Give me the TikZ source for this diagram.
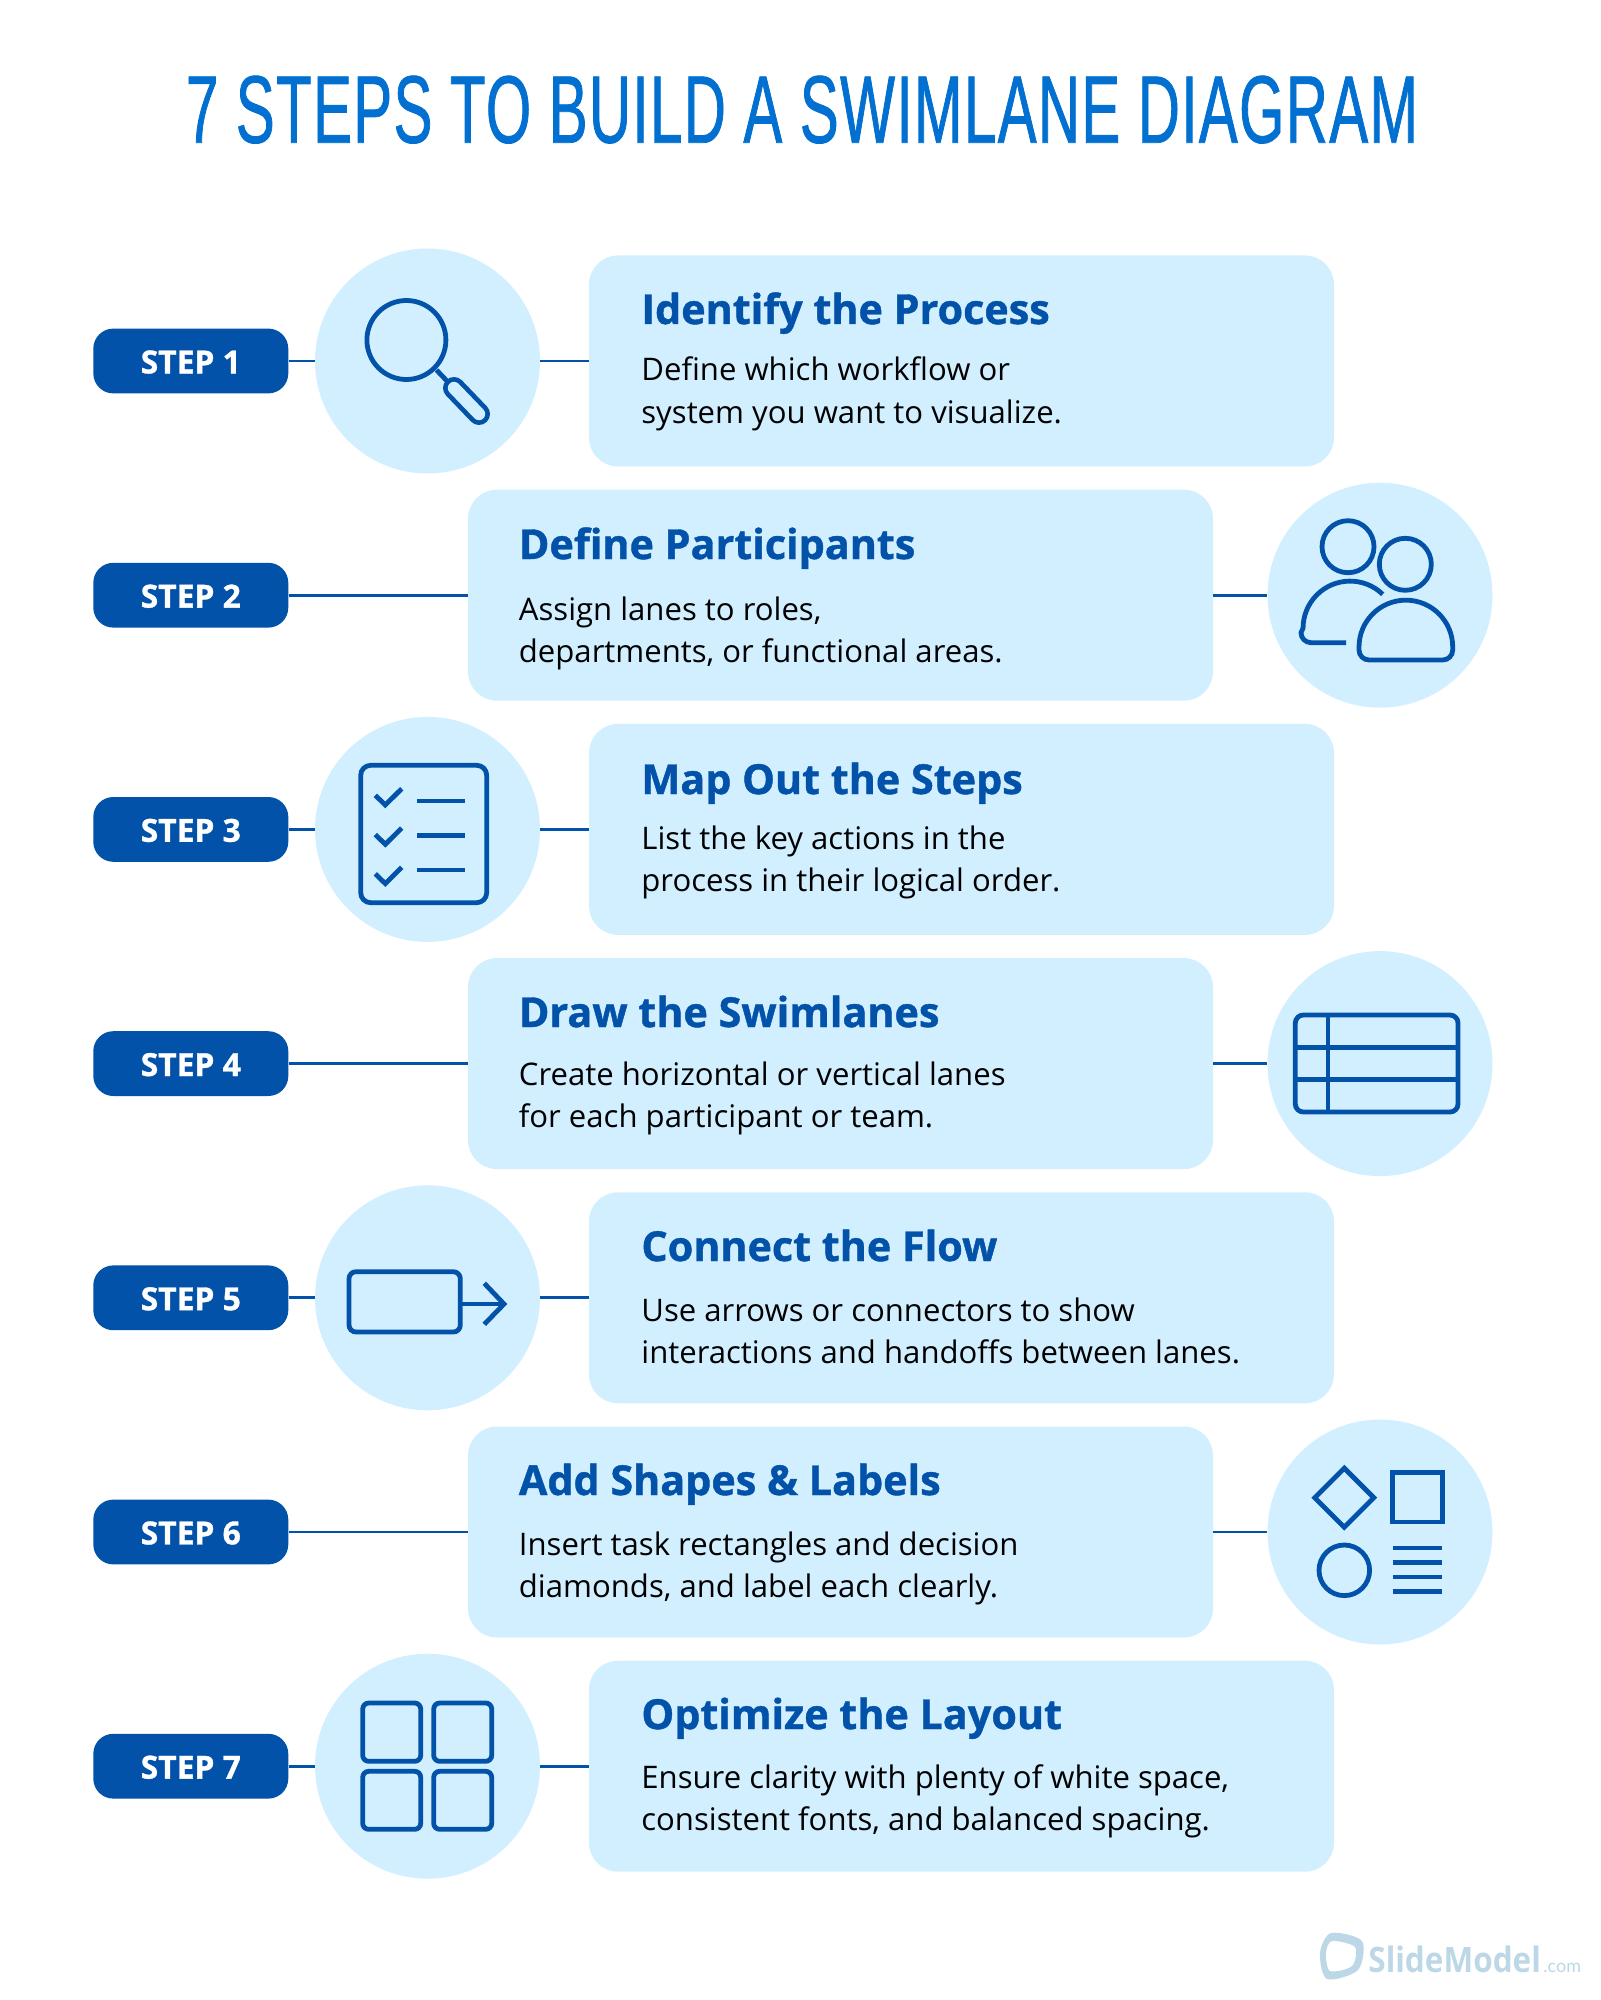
\documentclass[tikz,border=0pt]{standalone}
\usepackage{fontspec}
\setmainfont{Open Sans}
\newfontfamily\titlefont[FakeStretch=0.606,FakeBold=0.8,LetterSpace=1.5]{Liberation Sans}
\newfontfamily\logofont[FakeStretch=0.9]{Open Sans}
\newfontfamily\comfont{Lato}
\newfontfamily\heavyfont[BoldFeatures={FakeBold=1}]{Open Sans}
\definecolor{stepblue}{HTML}{0252A9}
\definecolor{titleblue}{HTML}{0270D1}
\definecolor{paleblue}{HTML}{D2EFFF}
\definecolor{logoblue}{HTML}{BCD8E6}
\tikzset{
  stepbox/.style={fill=stepblue,rounded corners=10pt,minimum width=97.5pt,minimum height=32.4pt,inner sep=0pt,text height=12.4pt,text depth=0pt,text=white,font=\fontsize{15.9}{18}\selectfont\heavyfont\bfseries},
  iconback/.style={circle,fill=paleblue,minimum size=112.5pt,inner sep=0pt},
  cardbox/.style={fill=paleblue,rounded corners=14.5pt,minimum height=105.5pt,inner sep=0pt},
  cardhead/.style={anchor=base west,inner sep=0pt,text=stepblue,font=\fontsize{20.65}{24}\selectfont\heavyfont\bfseries},
  cardtext/.style={anchor=base west,inner sep=0pt,align=left,text=black,font=\fontsize{15.55}{21}\selectfont},
  link/.style={draw=stepblue,line width=1.4pt},
  iconline/.style={draw=stepblue,line width=2.4pt}
}
\begin{document}
\begin{tikzpicture}[x=0.5pt,y=-0.5pt]
  \useasboundingbox (0,0) rectangle (1600,2000);
  \node (maintitle) [anchor=base,inner sep=0pt,text=titleblue,font=\fontsize{48}{50}\selectfont\titlefont] at (802,142.7) {7 STEPS TO BUILD A SWIMLANE DIAGRAM};

  \node (step1) [stepbox] at (190.8,361) {STEP 1};
  \node (step2) [stepbox] at (190.8,595.2) {STEP 2};
  \node (step3) [stepbox] at (190.8,829.4) {STEP 3};
  \node (step4) [stepbox] at (190.8,1063.6) {STEP 4};
  \node (step5) [stepbox] at (190.8,1297.8) {STEP 5};
  \node (step6) [stepbox] at (190.8,1532) {STEP 6};
  \node (step7) [stepbox] at (190.8,1766.2) {STEP 7};

  \node (back1) [iconback] at (427.5,361) {};
  \node (back2) [iconback] at (1380,595.2) {};
  \node (back3) [iconback] at (427.5,829.4) {};
  \node (back4) [iconback] at (1380,1063.6) {};
  \node (back5) [iconback] at (427.5,1297.8) {};
  \node (back6) [iconback] at (1380,1532) {};
  \node (back7) [iconback] at (427.5,1766.2) {};

  \node (card1) [cardbox,minimum width=372.5pt] at (961.5,361) {};
  \node (card2) [cardbox,minimum width=372.5pt] at (840.5,595.2) {};
  \node (card3) [cardbox,minimum width=372.5pt] at (961.5,829.4) {};
  \node (card4) [cardbox,minimum width=372.5pt] at (840.5,1063.6) {};
  \node (card5) [cardbox,minimum width=372.5pt] at (961.5,1297.8) {};
  \node (card6) [cardbox,minimum width=372.5pt] at (840.5,1532) {};
  \node (card7) [cardbox,minimum width=372.5pt] at (961.5,1766.2) {};

  \draw [link] (step1) -- (back1);
  \draw [link] (back1) -- (card1);
  \draw [link] (step2) -- (card2);
  \draw [link] (card2) -- (back2);
  \draw [link] (step3) -- (back3);
  \draw [link] (back3) -- (card3);
  \draw [link] (step4) -- (card4);
  \draw [link] (card4) -- (back4);
  \draw [link] (step5) -- (back5);
  \draw [link] (back5) -- (card5);
  \draw [link] (step6) -- (card6);
  \draw [link] (card6) -- (back6);
  \draw [link] (step7) -- (back7);
  \draw [link] (back7) -- (card7);

  \node (head1) [cardhead] at (641,324) {Identify the Process};
  \node (head2) [cardhead] at (518.5,559) {Define Participants};
  \node (head3) [cardhead] at (641,794) {Map Out the Steps};
  \node (head4) [cardhead] at (518.5,1027) {Draw the Swimlanes};
  \node (head5) [cardhead] at (641,1261) {Connect the Flow};
  \node (head6) [cardhead] at (518.5,1495) {Add Shapes \& Labels};
  \node (head7) [cardhead] at (641,1729) {Optimize the Layout};

  \node (text1) [cardtext] at (641,423) {Define which workflow or\\system you want to visualize.};
  \node (text2) [cardtext] at (518.5,662.6) {Assign lanes to roles,\\departments, or functional areas.};
  \node (text3) [cardtext] at (641,891) {List the key actions in the\\process in their logical order.};
  \node (text4) [cardtext] at (518.5,1127) {Create horizontal or vertical lanes\\for each participant or team.};
  \node (text5) [cardtext] at (641,1363) {Use arrows or connectors to show\\interactions and handoffs between lanes.};
  \node (text6) [cardtext] at (518.5,1597) {Insert task rectangles and decision\\diamonds, and label each clearly.};
  \node (text7) [cardtext] at (641,1830) {Ensure clarity with plenty of white space,\\consistent fonts, and balanced spacing.};

  \draw [iconline] (406.4,340) circle (39.5);
  \draw [iconline] (436.5,370) -- (447,381);
  \draw [draw=stepblue,line width=2.4pt,double=paleblue,double distance=6.2pt,line cap=round] (454,388) -- (479,414);

  \draw [iconline] (1348,546.7) circle (26);
  \draw [iconline] (1405.3,564.3) circle (26);
  \draw [iconline] (1382.7,594.3) arc [start angle=314,end angle=180,radius=47] -- (1301,632.7) arc [start angle=180,end angle=90,radius=10] -- (1346,642.7);
  \draw [iconline] (1359,647) arc [start angle=180,end angle=360,radius=46.85] -- (1452.7,650) arc [start angle=0,end angle=90,radius=10] -- (1369,660) arc [start angle=90,end angle=180,radius=10] -- cycle;

  \draw [iconline,rounded corners=5pt] (360.7,765.3) rectangle (486.7,902.7);
  \draw [iconline] (375.3,795.3) -- (385.3,805) -- (401.7,788.7);
  \draw [iconline] (375.3,834.6) -- (385.3,844.3) -- (401.7,828);
  \draw [iconline] (375.3,873.9) -- (385.3,883.6) -- (401.7,867.3);
  \draw [iconline] (417,801) -- (465,801);
  \draw [iconline] (417,835.7) -- (465,835.7);
  \draw [iconline] (417,870) -- (465,870);

  \draw [iconline,rounded corners=4pt] (1295.3,1015) rectangle (1458,1112);
  \draw [iconline] (1328,1015) -- (1328,1112);
  \draw [iconline] (1295.3,1047.7) -- (1458,1047.7);
  \draw [iconline] (1295.3,1079.3) -- (1458,1079.3);

  \draw [iconline,rounded corners=3.5pt] (349,1271.7) rectangle (460.3,1332);
  \draw [iconline] (460.3,1304) -- (504,1304);
  \draw [iconline] (484.3,1283.3) -- (504,1304) -- (484.3,1324.3);

  \draw [iconline] (1344.3,1468.2) -- (1373.8,1497.7) -- (1344.3,1527.2) -- (1314.8,1497.7) -- cycle;
  \draw [iconline] (1392.7,1472.7) rectangle (1442.3,1522);
  \draw [iconline] (1344.3,1570.3) circle (25.3);
  \draw [iconline] (1392.7,1548) -- (1442,1548);
  \draw [iconline] (1392.7,1562.7) -- (1442,1562.7);
  \draw [iconline] (1392.7,1577) -- (1442,1577);
  \draw [iconline] (1392.7,1591.3) -- (1442,1591.3);

  \draw [iconline,rounded corners=3pt] (362.7,1703) rectangle (420.7,1761.3);
  \draw [iconline,rounded corners=3pt] (433.7,1703) rectangle (491.7,1761.3);
  \draw [iconline,rounded corners=3pt] (362.7,1771.3) rectangle (420.7,1829.3);
  \draw [iconline,rounded corners=3pt] (433.7,1771.3) rectangle (491.7,1829.3);

  \fill [logoblue,even odd rule] plot [smooth cycle] coordinates {(1320,1953) (1331,1933) (1362,1941) (1358,1970) (1327,1979)} plot [smooth cycle] coordinates {(1326,1953) (1332,1941) (1355,1947) (1352,1966) (1330,1971)};
  \node (logoname) [anchor=base west,inner sep=0pt,text=logoblue,font=\fontsize{17.5}{20}\selectfont\logofont\bfseries] at (1368,1972) {SlideModel};
  \node (logocom) [anchor=base west,inner sep=0pt,text=logoblue,font=\fontsize{9}{12}\selectfont\comfont] at (1543,1972) {.com};
\end{tikzpicture}
\end{document}
